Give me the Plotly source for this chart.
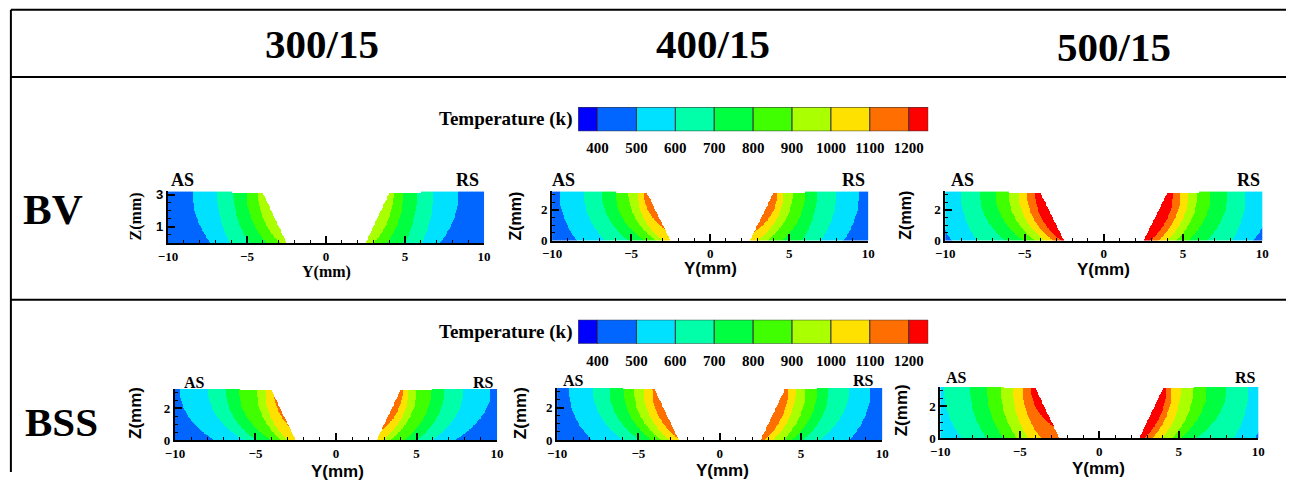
import numpy as np
import plotly.graph_objects as go

nan = float("nan")

# ---------------------------------------------------------------- data
levels = [400, 500, 600, 700, 800, 900, 1000, 1100, 1200]
band_colors = ["#0000FF", "#0066FF", "#00E1FF", "#00FFA8", "#00FF40",
               "#40FF00", "#AAFF00", "#FFE100", "#FF6E00", "#FF0000"]
legend_limits = [350, 1250]

# cross-section of the grooved plate (mm)
plate_y = [-10.0, -6.0, -5.99, -4.0, -2.5, 2.5, 4.0, 5.99, 6.0, 10.0]
plate_top = [3.2, 3.2, 3.1, 3.1, 0.0, 0.0, 3.1, 3.1, 3.2, 3.2]
surface_z = 3.1  # height where the "top" isotherm crossings are taken

# isotherm crossings, distance from weld centre (mm), one entry per level:
# *_top  -> crossing on the upper surface, *_root -> crossing at z = 0
# values beyond 10 mm lie outside the plate, nan = isotherm not reached
bv300_as_top = [12.0, 8.44, 6.88, 5.86, 5.02, 4.28, nan, nan, nan]
bv300_as_root = [11.0, 7.30, 6.08, 4.81, 3.76, 2.91, nan, nan, nan]
bv300_rs_top = [12.0, 8.38, 6.79, 5.74, 4.89, 4.26, nan, nan, nan]
bv300_rs_root = [11.0, 7.20, 6.05, 5.00, 3.84, 3.00, nan, nan, nan]

bv400_as_top = [12.0, 9.52, 8.00, 6.84, 6.00, 5.16, 4.59, 4.20, nan]
bv400_as_root = [11.5, 8.42, 6.63, 5.16, 4.10, 3.37, 2.95, 1.00, nan]
bv400_rs_top = [12.0, 9.43, 8.00, 6.74, 6.00, 5.22, 4.63, 4.25, nan]
bv400_rs_root = [11.5, 8.42, 6.95, 5.79, 4.53, 3.58, 2.95, 1.60, nan]

bv500_as_top = [12.0, 10.6, 9.01, 7.83, 6.84, 6.00, 5.37, 4.84, 4.32]
bv500_as_root = [11.5, 9.58, 8.00, 6.21, 5.05, 4.32, 3.68, 3.16, 2.63]
bv500_rs_top = [12.0, 10.6, 8.95, 7.80, 6.74, 5.90, 5.35, 4.84, 4.37]
bv500_rs_root = [11.5, 9.40, 8.10, 6.50, 5.30, 4.55, 3.95, 3.40, 2.90]

bss300_as_top = [12.0, 9.69, 7.93, 6.83, 6.02, 4.92, 4.40, 3.85, nan]
bss300_as_root = [11.0, 7.51, 5.65, 4.92, 3.99, 3.37, 2.95, 1.60, nan]
bss300_rs_top = [12.0, 9.60, 7.90, 6.70, 5.90, 5.00, 4.50, 4.12, nan]
bss300_rs_root = [11.0, 7.30, 5.90, 5.00, 4.20, 3.30, 2.80, 1.70, nan]

bss400_as_top = [12.0, 9.28, 7.80, 6.78, 5.90, 5.28, 4.67, 4.15, nan]
bss400_as_root = [11.0, 7.85, 5.90, 4.87, 4.15, 3.54, 3.03, 2.35, nan]
bss400_rs_top = [12.0, 9.28, 7.95, 6.70, 6.00, 5.28, 4.67, 4.20, nan]
bss400_rs_root = [11.0, 7.95, 6.10, 5.08, 4.40, 3.85, 3.23, 2.70, nan]

bss500_as_top = [12.0, 11.0, 9.79, 8.12, 7.07, 6.19, 5.43, 4.81, 4.28]
bss500_as_root = [11.5, 10.5, 8.64, 7.07, 6.02, 5.18, 4.45, 3.61, 1.00]
bss500_rs_top = [12.0, 10.6, 9.37, 8.00, 6.75, 5.90, 5.12, 4.55, 4.20]
bss500_rs_root = [11.5, 9.79, 8.43, 6.02, 5.08, 4.55, 3.93, 3.30, 2.77]

column_titles = ["300/15", "400/15", "500/15"]
row_titles = ["BV", "BSS"]

# ---------------------------------------------------------------- field
W, H = 1293, 480
grid_y = np.linspace(-10, 10, 401)
grid_z = np.linspace(0, 3.2, 129)
band_value = [levels[0] - 50] + [lv + 50 for lv in levels]


def band_field(as_top, as_root, rs_top, rs_root):
    Y, Z = np.meshgrid(grid_y, grid_z)
    out = np.full(Y.shape, np.nan)
    for side, tops, roots in ((Y < 0, as_top, as_root), (Y >= 0, rs_top, rs_root)):
        val = np.full(Y.shape, float(band_value[0]))
        for k, (yt, yr) in enumerate(zip(tops, roots)):
            if np.isnan(yt):
                continue
            # isotherm: quarter-ellipse centred on the weld axis at the surface,
            # passing through the surface and root crossings
            b = surface_z / np.sqrt(1 - (yr / yt) ** 2)
            inside = (Y / yt) ** 2 + ((Z - surface_z) / b) ** 2 < 1
            val[inside] = band_value[k + 1]
        out[side] = val[side]
    out[Z > np.interp(Y, plate_y, plate_top)] = np.nan
    return [[None if np.isnan(v) else int(v) for v in row] for row in out]


colorscale = []
for i, col in enumerate(band_colors):
    colorscale += [[i / len(band_colors), col], [(i + 1) / len(band_colors), col]]

# layout positions below are given on a page grid; convert to paper fractions
GRID_X0, GRID_SX = 10.1, 0.9865
GRID_Y0, GRID_SY = 4.2, 0.972


def fx(px):
    return (px - GRID_X0) / GRID_SX / W


def fy(py):
    return 1 - (py - GRID_Y0) / GRID_SY / H


SERIF = "Liberation Serif"
SANS = "Liberation Sans"

# panel frames: x of y=-10, x of y=10, top, bottom (z=0)
panels = [
    dict(data=(bv300_as_top, bv300_as_root, bv300_rs_top, bv300_rs_root),
         box=(168, 484, 191, 242.5), yt=[1, 3], ytf=SANS,
         ylab=(326, 271, SERIF, 16), zlab=(137, 216, SERIF, 16),
         AS=(183, 180, 18), RS=(467, 180, 18)),
    dict(data=(bv400_as_top, bv400_as_root, bv400_rs_top, bv400_rs_root),
         box=(552, 868, 191, 240), yt=[0, 2], ytf=SERIF,
         ylab=(710, 268, SANS, 17), zlab=(515, 216, SANS, 16),
         AS=(563, 180, 18), RS=(853, 180, 18)),
    dict(data=(bv500_as_top, bv500_as_root, bv500_rs_top, bv500_rs_root),
         box=(945, 1262, 191, 240), yt=[0, 2], ytf=SERIF,
         ylab=(1103, 269, SANS, 17), zlab=(905, 215, SANS, 16),
         AS=(962, 180, 18), RS=(1248, 180, 18)),
    dict(data=(bss300_as_top, bss300_as_root, bss300_rs_top, bss300_rs_root),
         box=(175, 497, 388, 439), yt=[0, 2], ytf=SERIF,
         ylab=(337, 470, SANS, 17), zlab=(135, 412, SANS, 17),
         AS=(195, 382, 16), RS=(483, 382, 16)),
    dict(data=(bss400_as_top, bss400_as_root, bss400_rs_top, bss400_rs_root),
         box=(557, 882, 387, 439), yt=[0, 2], ytf=SERIF,
         ylab=(722, 469, SANS, 17), zlab=(520, 412, SANS, 17),
         AS=(573, 380, 16), RS=(863, 380, 16)),
    dict(data=(bss500_as_top, bss500_as_root, bss500_rs_top, bss500_rs_root),
         box=(940, 1258, 386, 437), yt=[0, 2], ytf=SERIF,
         ylab=(1098, 467, SANS, 17), zlab=(901, 409, SANS, 17),
         AS=(956, 377, 16), RS=(1245, 377, 16)),
]

fig = go.Figure()
layout = dict(width=W, height=H, margin=dict(l=0, r=0, t=0, b=0),
              paper_bgcolor="white", plot_bgcolor="rgba(0,0,0,0)",
              showlegend=False, annotations=[], shapes=[])
ann = layout["annotations"]


def text(x, y, s, size, family=SERIF, angle=0, xanchor="center"):
    ann.append(dict(x=fx(x), y=fy(y), xref="paper", yref="paper", text=s,
                    showarrow=False, textangle=angle, xanchor=xanchor, yanchor="middle",
                    font=dict(family=family, size=size, color="black", weight="bold")))


for n, p in enumerate(panels, start=1):
    x0, x1, top, bot = p["box"]
    fig.add_trace(go.Heatmap(x=grid_y, y=grid_z, z=band_field(*p["data"]),
                             colorscale=colorscale, zmin=300, zmax=1300,
                             showscale=False, hoverinfo="skip",
                             xaxis=f"x{n}", yaxis=f"y{n}"))
    layout[f"xaxis{n}"] = dict(
        domain=[fx(x0), fx(x1)], range=[-10, 10], anchor=f"y{n}",
        showgrid=False, zeroline=False, showline=True, linecolor="black", linewidth=2,
        ticks="inside", ticklen=7, tickwidth=2, tickcolor="black",
        tickvals=[-10, -5, 0, 5, 10],
        minor=dict(ticks="inside", ticklen=3, tickwidth=1, tickcolor="black", dtick=1),
        tickfont=dict(family=SERIF, size=13, color="black", weight="bold"))
    layout[f"yaxis{n}"] = dict(
        domain=[fy(bot), fy(top)], range=[0, 3.2], anchor=f"x{n}",
        showgrid=False, zeroline=False, showline=True, linecolor="black", linewidth=2,
        ticks="inside", ticklen=7, tickwidth=2, tickcolor="black",
        tickvals=p["yt"],
        minor=dict(ticks="inside", ticklen=3, tickwidth=1, tickcolor="black", dtick=0.5),
        tickfont=dict(family=p["ytf"], size=13, color="black", weight="bold"))
    lx, ly, lf, ls = p["ylab"]
    text(lx, ly, "Y(mm)", ls, lf)
    zx, zy, zf, zs = p["zlab"]
    text(zx, zy, "Z(mm)", zs, zf, angle=-90)
    ax_, ay_, asz = p["AS"]
    text(ax_, ay_, "AS", asz)
    rx_, ry_, rsz = p["RS"]
    text(rx_, ry_, "RS", rsz)

# temperature legends (one per row)
edges = [legend_limits[0]] + levels + [legend_limits[1]]
centers = [(a + b) / 2 for a, b in zip(edges[:-1], edges[1:])]
widths = [b - a for a, b in zip(edges[:-1], edges[1:])]
for n, (top, bot, title_y) in zip((7, 8), ((107, 131, 119), (319, 343, 331))):
    fig.add_trace(go.Bar(x=centers, y=[1] * len(centers), width=widths, base=0,
                         marker=dict(color=band_colors, line=dict(color="#3a3a3a", width=1)),
                         cliponaxis=False, hoverinfo="skip",
                         xaxis=f"x{n}", yaxis=f"y{n}"))
    layout[f"xaxis{n}"] = dict(
        domain=[fx(578), fx(928)], range=legend_limits, anchor=f"y{n}",
        showgrid=False, zeroline=False, showline=False, ticks="",
        tickvals=levels, ticklabelstandoff=6,
        tickfont=dict(family=SERIF, size=15, color="black", weight="bold"))
    layout[f"yaxis{n}"] = dict(domain=[fy(bot), fy(top)], range=[0, 1],
                               anchor=f"x{n}", visible=False)
    text(575, title_y, "Temperature (k)", 19, xanchor="right")

# headings
for s, x, y in zip(column_titles, (322, 713, 1114), (44, 44, 47)):
    text(x, y, s, 41)
for s, x, y, size in zip(row_titles, (53, 62), (209, 421), (43, 41)):
    text(x, y, s, size)

# table rules
line = dict(color="black", width=2)
for y in (10, 77, 299):
    layout["shapes"].append(dict(type="line", xref="paper", yref="paper",
                                 x0=fx(11), x1=1, y0=fy(y), y1=fy(y), line=line))
layout["shapes"].append(dict(type="line", xref="paper", yref="paper",
                             x0=fx(11), x1=fx(11), y0=fy(10), y1=0, line=line))

fig.update_layout(**layout)
fig.write_html("out.html")
